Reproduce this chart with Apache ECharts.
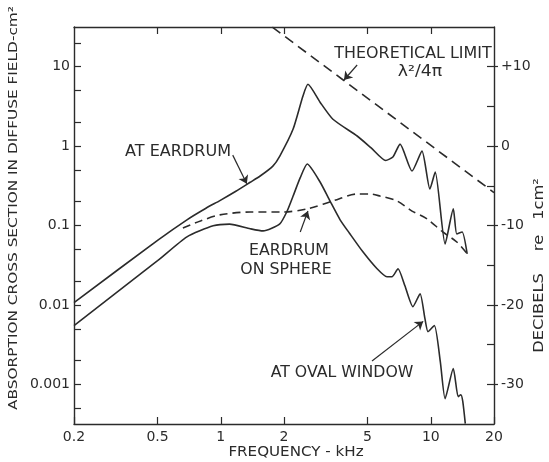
<!DOCTYPE html>
<html>
<head>
<meta charset="utf-8">
<script src="https://cdn.jsdelivr.net/npm/echarts@6/dist/echarts.min.js"></script>
<style>
  html, body { margin: 0; padding: 0; background: #ffffff; }
  #chart { width: 549px; height: 462px; }
</style>
</head>
<body>
<div id="chart"></div>
<script>
// Axis ticks: frequency in kHz, cross section in cm², level in dB re 1 cm²
const freqTickValues = [0.2, 0.5, 1, 2, 5, 10, 20];
const crossTickValues = [0.0005, 0.001, 0.002, 0.005, 0.01, 0.02, 0.05, 0.1, 0.2, 0.5, 1, 2, 5, 10, 20];
const crossLabelValues = [0.001, 0.01, 0.1, 1, 10];
const dbTickValues = [-30, -25, -20, -15, -10, -5, 0, 5, 10];
const dbLabelValues = [-30, -20, -10, 0, 10];

// Absorption cross section at the eardrum
const eardrumFreq  = [0.2, 0.5, 0.69, 0.85, 0.99, 1.18, 1.38, 1.54, 1.77, 1.91, 2.21, 2.46, 2.6, 2.97, 3.42, 4.46, 5.2, 6.1, 6.6, 7.14, 8.14, 9.08, 9.9, 10.5, 11.7, 12.8, 13.3, 14.1, 14.9];
const eardrumSigma = [0.0107, 0.065, 0.118, 0.165, 0.206, 0.27, 0.35, 0.42, 0.56, 0.75, 1.64, 4.25, 6.0, 3.57, 2.18, 1.34, 0.95, 0.66, 0.73, 1.06, 0.485, 0.865, 0.288, 0.471, 0.0587, 0.162, 0.078, 0.083, 0.044];

// Eardrum on a sphere (dashed)
const sphereFreq  = [0.66, 0.8, 0.99, 1.38, 1.98, 2.58, 3.42, 4.46, 5.13, 5.73, 6.9, 8.14, 9.6, 11.4, 13.3, 14.9];
const sphereSigma = [0.093, 0.114, 0.136, 0.148, 0.148, 0.162, 0.204, 0.249, 0.249, 0.235, 0.204, 0.152, 0.121, 0.083, 0.062, 0.044];

// At the oval window
const ovalFreq  = [0.2, 0.5, 0.69, 0.92, 1.1, 1.38, 1.59, 1.91, 2.07, 2.21, 2.39, 2.58, 2.97, 3.31, 3.7, 4.1, 4.75, 5.55, 6.18, 6.53, 6.98, 7.53, 8.22, 8.89, 9.38, 9.7, 10.4, 11.1, 11.7, 12.8, 13.5, 13.9, 14.2, 14.6];
const ovalSigma = [0.0055, 0.036, 0.072, 0.099, 0.104, 0.091, 0.0855, 0.105, 0.152, 0.235, 0.4, 0.594, 0.353, 0.204, 0.118, 0.08, 0.0466, 0.0285, 0.0226, 0.0226, 0.0285, 0.0174, 0.0095, 0.0138, 0.0067, 0.0046, 0.0055, 0.00193, 0.00066, 0.00158, 0.0007, 0.00074, 0.00061, 0.00032];

// Theoretical limit λ²/4π
const limitFreq  = [1.76, 3.8, 20];
const limitSigma = [31.5, 6.9, 0.26];

// Label arrows: [from, to] in (kHz, cm²)
const arrowEardrum = [[1.14, 0.77], [1.33, 0.335]];
const arrowLimit   = [[4.46, 10.5], [3.86, 6.8]];
const arrowSphere  = [[2.39, 0.083], [2.6, 0.152]];
const arrowOval    = [[5.25, 0.00196], [9.2, 0.0062]];

const zip = (xs, ys) => xs.map((x, i) => [x, ys[i]]);

const ink = '#2b2b2b';
const font = 'DejaVu Sans';

const chart = echarts.init(document.getElementById('chart'), null, { renderer: 'canvas' });

const curve = (name, xs, ys, opts) => ({
  name,
  type: 'line',
  xAxisIndex: 0,
  yAxisIndex: 0,
  data: zip(xs, ys),
  showSymbol: false,
  symbol: 'none',
  smooth: opts.smooth,
  lineStyle: { color: ink, width: 1.6, type: opts.dash || 'solid' },
  z: 3
});

const arrows = {
  type: 'lines',
  coordinateSystem: 'cartesian2d',
  xAxisIndex: 0,
  yAxisIndex: 0,
  symbol: ['none', 'arrow'],
  symbolSize: [0, 8],
  lineStyle: { color: ink, width: 1.2, opacity: 1 },
  data: [arrowEardrum, arrowLimit, arrowSphere, arrowOval].map(c => ({ coords: c })),
  z: 4
};

const text = (str, x, y, size, sx, rot) => ({
  type: 'text',
  x, y,
  rotation: rot || 0,
  scaleX: sx || 1,
  style: {
    text: str,
    fill: ink,
    font: `${size}px "${font}"`,
    textAlign: 'center',
    textVerticalAlign: 'middle'
  }
});

const frame = { show: true, onZero: false, lineStyle: { color: ink, width: 1.4 } };
const tickStyle = { color: ink, width: 1.2 };
const labelFont = { color: ink, fontFamily: font, fontSize: 14 };

chart.setOption({
  animation: false,
  backgroundColor: '#ffffff',
  grid: { left: 74, right: 55, top: 27, bottom: 38, containLabel: false, outerBoundsMode: 'none' },
  xAxis: [
    {
      type: 'log', min: 0.2, max: 20, position: 'bottom',
      axisLine: frame,
      axisTick: { show: true, inside: true, length: 7, customValues: freqTickValues, lineStyle: tickStyle },
      axisLabel: Object.assign({ show: true, customValues: freqTickValues, margin: 6,
        formatter: v => String(+v.toPrecision(3)) }, labelFont),
      splitLine: { show: false }, minorTick: { show: false }, minorSplitLine: { show: false }
    },
    {
      type: 'log', min: 0.2, max: 20, position: 'top',
      axisLine: frame,
      axisTick: { show: true, inside: true, length: 7, customValues: [0.5, 1, 2, 5, 10], lineStyle: tickStyle },
      axisLabel: { show: false },
      splitLine: { show: false }
    }
  ],
  yAxis: [
    {
      type: 'log', min: Math.pow(10, -3.5), max: Math.pow(10, 1.5), position: 'left',
      axisLine: frame,
      axisTick: { show: true, inside: true, length: 7, customValues: crossTickValues, lineStyle: tickStyle },
      axisLabel: Object.assign({ show: true, customValues: crossLabelValues, margin: 4,
        formatter: v => String(+v.toPrecision(3)) }, labelFont),
      splitLine: { show: false }
    },
    {
      type: 'value', min: -35, max: 15, position: 'right',
      axisLine: frame,
      axisTick: { show: true, inside: true, length: 7, customValues: dbTickValues, lineStyle: tickStyle },
      axisLabel: Object.assign({ show: true, customValues: dbLabelValues, margin: 7,
        formatter: v => (v > 0 ? '+' + v : String(v)) }, labelFont),
      splitLine: { show: false }
    },
    {
      type: 'value', min: -35, max: 15, position: 'right',
      axisLine: { show: false, onZero: false },
      axisTick: { show: true, inside: false, length: 4, customValues: dbLabelValues, lineStyle: tickStyle },
      axisLabel: { show: false },
      splitLine: { show: false }
    }
  ],
  series: [
    curve('AT EARDRUM', eardrumFreq, eardrumSigma, { smooth: 0.2 }),
    curve('EARDRUM ON SPHERE', sphereFreq, sphereSigma, { smooth: 0.3, dash: [8, 5] }),
    curve('AT OVAL WINDOW', ovalFreq, ovalSigma, { smooth: 0.2 }),
    curve('THEORETICAL LIMIT', limitFreq, limitSigma, { smooth: false, dash: [10, 6] }),
    arrows
  ],
  graphic: [
    text('AT EARDRUM', 178, 152, 15, 1.07),
    text('THEORETICAL LIMIT', 413, 54, 15, 1.06),
    text('λ²/4π', 420, 72, 15, 1.15),
    text('EARDRUM', 289, 251, 15, 1.05),
    text('ON SPHERE', 286, 270, 15, 1.05),
    text('AT OVAL WINDOW', 342, 373, 15, 1.05),
    text('FREQUENCY - kHz', 296, 452, 14, 1.08),
    text('ABSORPTION CROSS SECTION IN DIFFUSE FIELD-cm²', 14, 208, 13, 1.18, Math.PI / 2),
    text('DECIBELS', 539, 313, 14, 1.16, Math.PI / 2),
    text('re', 539, 243, 14, 1.16, Math.PI / 2),
    text('1cm²', 539, 199, 14, 1.16, Math.PI / 2)
  ]
});
</script>
</body>
</html>
